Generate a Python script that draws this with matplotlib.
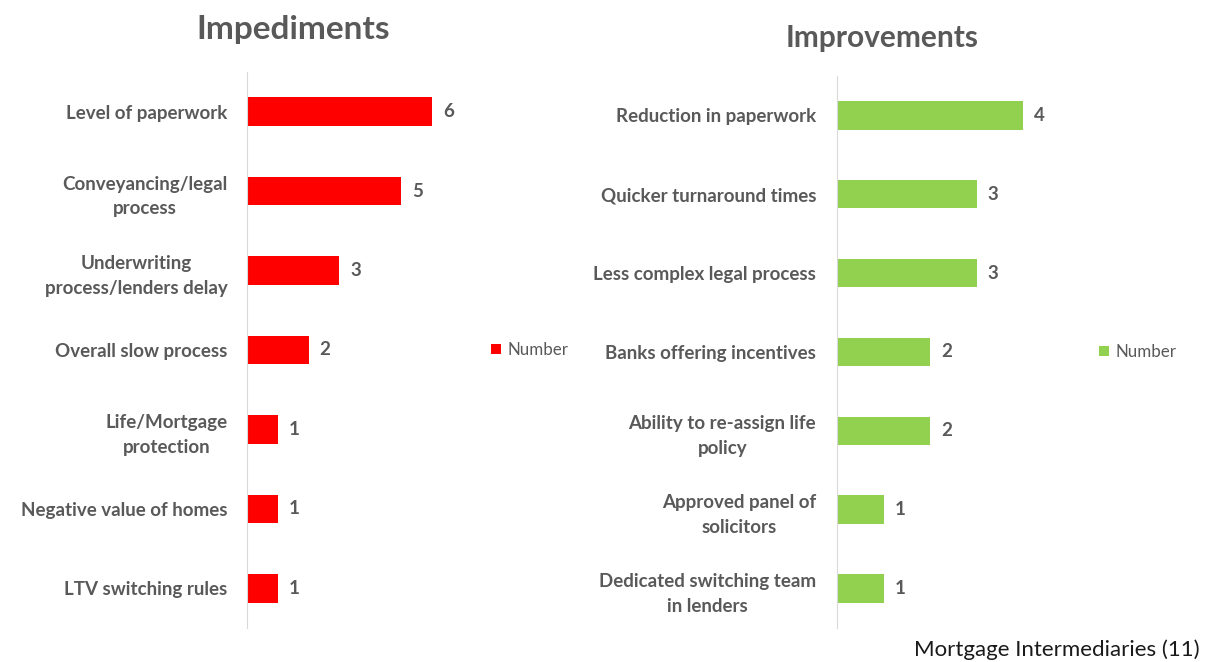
import numpy as np
import matplotlib.pyplot as plt

plt.rcParams['font.family'] = ['Lato', 'DejaVu Sans']

imp_labels = ['Level of paperwork', 'Conveyancing/legal\nprocess',
              'Underwriting\nprocess/lenders delay', 'Overall slow process',
              'Life/Mortgage\nprotection', 'Negative value of homes',
              'LTV switching rules']
imp_values = [6, 5, 3, 2, 1, 1, 1]

impr_labels = ['Reduction in paperwork', 'Quicker turnaround times',
               'Less complex legal process', 'Banks offering incentives',
               'Ability to re-assign life\npolicy', 'Approved panel of\nsolicitors',
               'Dedicated switching team\nin lenders']
impr_values = [4, 3, 3, 2, 2, 1, 1]

grey = '#595959'

fig = plt.figure(figsize=(12.1, 6.62), dpi=100)


def panel(rect, labels, values, color, xmax, pad, title, title_xy, title_size, leg_xy):
    ax = fig.add_axes(rect)
    y = np.arange(len(labels))
    ax.barh(y, values, height=0.36, color=color, label='Number')
    ax.set_ylim(len(labels) - 0.5, -0.5)
    ax.set_xlim(0, xmax)
    ax.set_yticks(y)
    ax.set_yticklabels(labels, fontsize=13.5, fontweight='bold', color=grey,
                       linespacing=1.55, ha='right', multialignment='center')
    ax.tick_params(axis='y', length=0, pad=pad)
    ax.set_xticks([])
    for s in ['top', 'right', 'bottom']:
        ax.spines[s].set_visible(False)
    ax.spines['left'].set_color('#d9d9d9')
    for yi, v in zip(y, values):
        ax.annotate(str(v), (v, yi), xytext=(8, 0), textcoords='offset points',
                    va='center', ha='left', fontsize=13.5, fontweight='bold',
                    color=grey)
    fig.text(title_xy[0], title_xy[1], title, ha='center', va='center',
             fontsize=title_size, fontweight='bold', color=grey)
    ax.legend(loc='center left', bbox_to_anchor=leg_xy, frameon=False,
              fontsize=12.2, labelcolor=grey, handlelength=0.6, handleheight=0.6,
              handletextpad=0.4)
    return ax


ax1 = panel([0.2041, 0.0514, 0.1926, 0.8399], imp_labels, imp_values, '#ff0000',
            7.56, 14, 'Impediments', (293 / 1210, 1 - 30 / 662), 24, (0.98, 0.5))
ax2 = panel([0.6917, 0.0514, 0.2008, 0.8338], impr_labels, impr_values, '#92d050',
            5.22, 15, 'Improvements', (882 / 1210, 1 - 38 / 662), 21.5, (1.015, 0.5))

fig.text(1200 / 1210, 1 - 650 / 662, 'Mortgage Intermediaries (11)', ha='right',
         va='center', fontsize=16, color='#1a1a1a')

fig.savefig('out.png', dpi=100)
